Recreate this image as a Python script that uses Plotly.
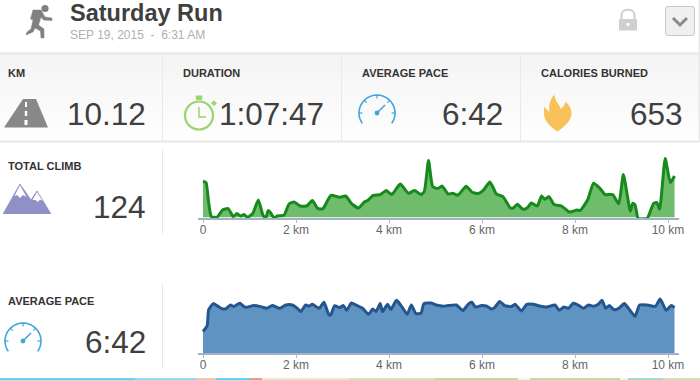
import math, re
import plotly.graph_objects as go

# ---------- data ----------
climb_km = [0.0, 0.065, 0.12, 0.18, 0.3, 0.42, 0.54, 0.65, 0.73, 0.81, 0.88, 0.96, 1.07, 1.19, 1.29, 1.35, 1.4, 1.45, 1.53, 1.6, 1.74, 1.85, 1.96, 2.09, 2.23, 2.35, 2.47, 2.58, 2.75, 2.93, 3.07, 3.19, 3.34, 3.47, 3.54, 3.66, 3.81, 3.94, 4.06, 4.24, 4.42, 4.55, 4.69, 4.76, 4.85, 4.94, 5.05,
            5.14, 5.27, 5.37, 5.48, 5.66, 5.78, 5.91, 6.02, 6.17, 6.31, 6.45, 6.61, 6.67, 6.76, 6.88, 6.97, 7.06, 7.19, 7.28, 7.35, 7.44, 7.55, 7.71, 7.88, 8.04, 8.11, 8.27, 8.40, 8.54, 8.65, 8.81, 8.94, 9.04, 9.19, 9.24, 9.29, 9.36, 9.55, 9.69, 9.76, 9.82, 9.94, 10.05, 10.14]
climb_val = [36, 34.7, 15.3, 0.7, 0, 7.3, 8.7, 0.7, 3.7, 1.3, 2.7, 0, 4, 17.3, 2, -0.7, 6.7, 4.7, -0.7, 1.3, 2, 13.3, 15.3, 11.3, 11.3, 16.7, 8.7, 8.7, 22, 20, 21.3, 14, 9.3, 15.3, 16.7, 22, 22.7, 26.7, 22.7, 33.3, 24, 26.7, 22.7, 26, 56.7, 30.7, 28.7,
             31.3, 23.3, 24, 22, 31, 25.3, 23.7, 26.7, 35.3, 23.3, 20.7, 9.3, 9.3, 13, 8, 9.3, 14.3, 11.3, 21.3, 18, 20.7, 12.7, 11.3, 5.3, 7.3, 6.7, 17.3, 34, 28.7, 22.7, 22.7, 13.7, 42.7, 6, 14, 12.7, -1.3, -1.3, 14, 14.7, 8, 58.7, 34.7, 41.3]
pace_km = [0.0, 0.09, 0.12, 0.22, 0.3, 0.39, 0.48, 0.59, 0.66, 0.79, 0.91, 1.09, 1.24, 1.37, 1.49, 1.65, 1.78, 1.92, 2.03, 2.1, 2.21, 2.28, 2.35, 2.5, 2.6, 2.71, 2.75, 2.83, 2.93, 3.02, 3.09, 3.19, 3.29, 3.43, 3.56, 3.65, 3.72, 3.81, 3.86, 3.97, 4.04, 4.16, 4.26, 4.39, 4.48, 4.58, 4.69, 4.75, 4.91, 5.02,
           5.09, 5.16, 5.27, 5.45, 5.59, 5.70, 5.78, 5.86, 5.99, 6.09, 6.20, 6.27, 6.38, 6.49, 6.63, 6.71, 6.85, 6.96, 7.10, 7.24, 7.39, 7.57, 7.66, 7.76, 7.86, 7.96, 8.09, 8.18, 8.29, 8.40, 8.50, 8.58, 8.66, 8.74, 8.83, 8.94, 9.06, 9.15, 9.29, 9.39, 9.55, 9.73, 9.83, 9.96, 10.07, 10.14]
pace_val = [21.7, 27.7, 43.3, 49.7, 47.7, 45, 44.3, 48.3, 46.7, 50, 46, 47.7, 46.7, 45, 47.7, 45, 48.3, 48.3, 45, 41.7, 48.3, 47, 49, 45, 51, 38.3, 38.7, 47.7, 45.7, 47.7, 43, 50.3, 48.3, 45, 39, 44.3, 41.7, 49.7, 41.7, 49, 43.7, 53, 47.7, 39, 48.3, 39.7, 40.3, 49.7, 50.3, 48.3,
            47.7, 47, 47.7, 48.3, 42.7, 49, 51, 46.3, 47.7, 47.3, 44.3, 45.7, 51.7, 47.7, 46.7, 49, 42.3, 49, 49, 47.3, 46.3, 48.3, 43, 46.3, 45, 50, 47.7, 45, 48.3, 47, 49, 53, 45, 47.7, 43.7, 45, 49.7, 45, 37, 48.3, 48.3, 47, 54.3, 43, 47.7, 45.7]

tick_vals = [0, 2, 4, 6, 8, 10]
tick_text = ["0", "2 km", "4 km", "6 km", "8 km", "10 km"]

title = "Saturday Run"
subtitle = "SEP 19, 2015&nbsp;&nbsp;-&nbsp;&nbsp;6:31 AM"
stat_labels = ["KM", "DURATION", "AVERAGE PACE", "CALORIES BURNED"]
stat_values = ["10.12", "1:07:47", "6:42", "653"]

# ---------- helpers ----------
W, H = 700, 380
FONT = "Liberation Sans, Arial, sans-serif"
shapes, ann = [], []

def px(x, y):
    return x / W, 1 - y / H

def conv(path):
    toks = re.findall(r"[MLCQZ]|-?\d+\.?\d*", path)
    out, isx, last = [], True, 0
    for t in toks:
        if t in "MLCQZ":
            out.append(t); isx = True
        elif isx:
            last = float(t); isx = False
        else:
            a, b = px(last, float(t)); out.append(f"{a:.5f},{b:.5f}"); isx = True
    return " ".join(out)

def path(d, fill=None, line=None, w=0):
    s = dict(type="path", path=conv(d), xref="paper", yref="paper", layer="above",
             line=dict(color=line or "rgba(0,0,0,0)", width=w))
    if fill:
        s["fillcolor"] = fill
    shapes.append(s)

def rect(x0, y0, x1, y1, fill, layer="below"):
    a, b = px(x0, y0); c, d = px(x1, y1)
    shapes.append(dict(type="rect", xref="paper", yref="paper", x0=a, y0=b, x1=c, y1=d,
                       fillcolor=fill, line=dict(width=0), layer=layer))

def circle(cx, cy, r, fill=None, line=None, w=0):
    a, b = px(cx - r, cy - r); c, d = px(cx + r, cy + r)
    shapes.append(dict(type="circle", xref="paper", yref="paper", x0=a, y0=b, x1=c, y1=d,
                       fillcolor=fill or "rgba(0,0,0,0)", layer="above",
                       line=dict(color=line or "rgba(0,0,0,0)", width=w)))

def text(x, y, s, size, color, anchor="left", bold=False):
    a, b = px(x, y)
    ann.append(dict(text=f"<b>{s}</b>" if bold else s, x=a, y=b, xref="paper", yref="paper",
                    xanchor=anchor, yanchor="middle", showarrow=False, borderpad=0, borderwidth=0,
                    font=dict(family=FONT, size=size, color=color)))

def gauge(cx, cy, r):
    col = "#3fa6dc"
    pts = []
    for i in range(25):
        ang = math.radians(-215 + i * 250 / 24)
        pts.append((cx + r * math.cos(ang), cy + r * math.sin(ang)))
    path("M" + " L".join(f"{x:.1f},{y:.1f}" for x, y in pts), None, col, 1.6)
    for deg in (-180, -135, -90, -45, 0):
        a = math.radians(deg)
        path(f"M{cx + r*math.cos(a):.1f},{cy + r*math.sin(a):.1f} L{cx + (r-3.5)*math.cos(a):.1f},{cy + (r-3.5)*math.sin(a):.1f}", None, col, 1.2)
    circle(cx, cy, 2.4, col)
    path(f"M{cx:.1f},{cy:.1f} L{cx+8:.1f},{cy-8:.1f}", None, col, 1.6)

# ---------- page furniture ----------
rect(0, 0, 700, 380, "#ffffff")
for i in range(12):
    t = i / 11
    v = int(245 + t * 9)
    rect(0, 54 + i * 7.3, 699, 54 + (i + 1) * 7.3, f"rgb({v},{v},{v})")
rect(0, 52.5, 699, 54.5, "#e6e6e6")
rect(0, 140.5, 699, 142.5, "#e8e8e8")
rect(698.5, 0, 700, 142, "#e8e8e8")
for x in (162, 341, 520):
    rect(x, 54, x + 1, 141, "#e9e9e9")
rect(162, 149, 163, 234, "#e9e9e9")
rect(162, 283, 163, 369, "#e9e9e9")
# map strip along the bottom edge
for x0, x1, c in [(0, 135, "#62d3f6"), (135, 196, "#8fdcf0"), (196, 216, "#e9c8b4"), (216, 250, "#62d3f6"),
                  (250, 262, "#e2a090"), (262, 350, "#ece6cc"), (350, 435, "#d8e2b4"), (435, 518, "#bfdc98"),
                  (518, 530, "#f4f4ea"), (530, 620, "#c4dea0"), (620, 628, "#f4f4ea"), (628, 663, "#a8d8d0"),
                  (663, 700, "#d4e0b0")]:
    rect(x0, 378, x1, 380, c)

# ---------- icons ----------
g = "#808080"
circle(45, 8.5, 3.6, g)
path("M33,10 L41,10 L45,17 L52,18 L52,20.5 L43.5,20 L41,17 L38.5,25 L44,29 L44,38 L41,38 L40.5,31 L35,28 L33,32 L26,35 L27,32 L31,29 L33,20 L30.5,19 Z", g, g, 0.5)
# road
path("M4,127.5 L23,99 L36,99 L48,127.5 Z", "#888888")
path("M25,102 L27,102 L27,107 L25,107 Z M24.8,111 L27.2,111 L27.2,116 L24.8,116 Z M24.5,120 L27.5,120 L27.5,125 L24.5,125 Z", "#ffffff")
# stopwatch
sw = "#9ad56e"
circle(199, 115.5, 14, None, sw, 2.2)
path("M199,107 L199,117 L206,117", None, sw, 1.5)
path("M195.5,95.5 L202.5,95.5 L202,100 L196,100 Z", sw)
path("M211,103 L214,100.5 L217,103.5 L214,106 Z", sw)
# gauges
gauge(377, 113, 18)
gauge(23, 341, 18)
# flame
path("M557.7,131.5 C550,127 543.5,120 544,113 C544,110.5 544,108 544.5,106.5 C546,109 547.5,110.5 549.5,112 C548.5,105 550,99 554.5,94.5 C555,101 559,104 561,109 C563,107 565,105 565.7,101.5 C569,105 572,109 571.5,114 C571,121 564,127 557.7,131.5 Z", "#f8c15a")
# mountains
pu = "#8f90c6"
path("M3,214 L20,184 L31,200 L37,191 L51,214 Z", pu)
path("M20,185 L14.5,196 L17,195 L20,198 L23,195 L26.5,197 Z", "#ffffff")
path("M37,192 L32.5,200 L35.5,200 L38,202 L40,199.5 L43,201 Z", "#ffffff")
path("M3,214 L20,184 L31,200 L37,191 L51,214", None, pu, 0.8)
# lock
lk = "#cfcfcf"
path("M621.5,19 L621.5,15 C621.5,8 634.5,8 634.5,15 L634.5,19", None, lk, 2.2)
path("M619,19 L637,19 L637,30.5 L619,30.5 Z", lk)
circle(628, 24.5, 1.7, "#ffffff")
# dropdown button
path("M668,6.5 L692,6.5 C693.5,6.5 694.5,7.5 694.5,9 L694.5,33 C694.5,34.5 693.5,35.5 692,35.5 L668,35.5 C666.5,35.5 665.5,34.5 665.5,33 L665.5,9 C665.5,7.5 666.5,6.5 668,6.5 Z", "#f0f0f0", "#c8c8c8", 1)
path("M673,18 L680,25 L687,18", None, "#8a8a8a", 3)

# ---------- text ----------
dark = "#3f3f3f"
text(69.5, 13, title, 23.5, dark, bold=True)
text(70, 34.5, subtitle, 12, "#b0b0b0")
for x, s in zip((8, 183.5, 362, 540.5), stat_labels):
    text(x, 73, s, 11, "#333333", bold=True)
for x, s in zip((146, 324, 503, 683), stat_values):
    text(x, 114, s, 31.5, dark, anchor="right")
text(8, 166, "TOTAL CLIMB", 11, "#333333", bold=True)
text(145.5, 207, "124", 31.5, dark, anchor="right")
text(8, 301, "AVERAGE PACE", 11, "#333333", bold=True)
text(145.5, 342, stat_values[2], 31.5, dark, anchor="right")

# ---------- charts ----------
fig = go.Figure()
fig.add_trace(go.Scatter(x=climb_km, y=climb_val, mode="lines", fill="tozeroy",
                         fillcolor="#6fbc6c", line=dict(color="#178a1c", width=3, shape="spline", smoothing=0.5),
                         hoverinfo="skip", xaxis="x", yaxis="y"))
fig.add_trace(go.Scatter(x=pace_km, y=pace_val, mode="lines", fill="tozeroy",
                         fillcolor="#5f93c2", line=dict(color="#24558f", width=3, shape="spline", smoothing=0.5),
                         hoverinfo="skip", xaxis="x2", yaxis="y2"))

km = dict(range=[-0.108, 10.23], tickmode="array", tickvals=tick_vals, ticktext=tick_text,
          ticks="outside", ticklen=3, tickcolor="#b0bccc", tickwidth=1, showline=True,
          linecolor="#a3b1c6", linewidth=1.5, showgrid=False, zeroline=False, automargin=False,
          ticklabelstandoff=-3,
          tickfont=dict(family=FONT, size=12, color="#666666"), fixedrange=True)
val = dict(visible=False, showgrid=False, zeroline=False, fixedrange=True, automargin=False)
xdom = [198 / W, 678.7 / W]
fig.update_layout(
    width=W, height=H, margin=dict(l=0, r=0, t=0, b=0, pad=0, autoexpand=False), showlegend=False,
    paper_bgcolor="#ffffff", plot_bgcolor="rgba(0,0,0,0)",
    xaxis=dict(km, domain=xdom, anchor="y"),
    yaxis=dict(val, domain=[1 - 218.3 / H, 1 - 150 / H], range=[-1, 67.3]),
    xaxis2=dict(km, domain=xdom, anchor="y2"),
    yaxis2=dict(val, domain=[1 - 353.3 / H, 1 - 285 / H], range=[0, 68.3]),
    shapes=shapes, annotations=ann,
)
fig.write_html("out.html", config=dict(displayModeBar=False),
               post_script="document.body.style.margin='0';")
